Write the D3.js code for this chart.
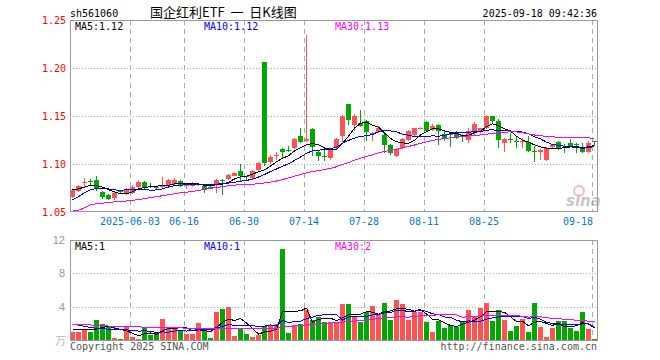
<!DOCTYPE html>
<html>
<head>
<meta charset="utf-8">
<script src="https://cdn.jsdelivr.net/npm/d3@7"></script>
<style>
  body { margin: 0; background: #fff; }
  svg { display: block; }
  .mono { font-family: 'DejaVu Sans Mono', 'Liberation Mono', monospace; font-size: 10px; }
</style>
</head>
<body>
<div id="chart"></div>
<script>
const dates = [
  '05-19', '05-20', '05-21', '05-22', '05-23', '05-26', '05-27', '05-28', '05-29', '05-30',
  '06-03', '06-04', '06-05', '06-06', '06-09', '06-10', '06-11', '06-12', '06-13',
  '06-16', '06-17', '06-18', '06-19', '06-20', '06-23', '06-24', '06-25', '06-26', '06-27',
  '06-30', '07-01', '07-02', '07-03', '07-04', '07-07', '07-08', '07-09', '07-10', '07-11',
  '07-14', '07-15', '07-16', '07-17', '07-18', '07-21', '07-22', '07-23', '07-24', '07-25',
  '07-28', '07-29', '07-30', '07-31', '08-01', '08-04', '08-05', '08-06', '08-07', '08-08',
  '08-11', '08-12', '08-13', '08-14', '08-15', '08-18', '08-19', '08-20', '08-21', '08-22',
  '08-25', '08-26', '08-27', '08-28', '08-29', '09-01', '09-02', '09-03', '09-04', '09-05',
  '09-08', '09-09', '09-10', '09-11', '09-12', '09-15', '09-16', '09-17', '09-18'
];

const open = [
  1.066, 1.072, 1.080, 1.0825, 1.083, 1.071, 1.068, 1.065, 1.0715, 1.069,
  1.070, 1.076, 1.081, 1.0775, 1.0765, 1.077, 1.078, 1.079, 1.082, 1.0775,
  1.077, 1.0785, 1.077, 1.0765, 1.078, 1.0835, 1.084, 1.088, 1.093, 1.0875,
  1.085, 1.094, 1.206, 1.102, 1.108, 1.116, 1.1145, 1.117, 1.129, 1.124,
  1.136, 1.113, 1.1085, 1.106, 1.117, 1.129, 1.162, 1.141, 1.143, 1.145,
  1.1315, 1.133, 1.130, 1.120, 1.108, 1.117, 1.125, 1.130, 1.137, 1.144,
  1.135, 1.141, 1.131, 1.1315, 1.132, 1.1305, 1.125, 1.134, 1.133, 1.1375,
  1.150, 1.145, 1.122, 1.1265, 1.1235, 1.1235, 1.123, 1.1135, 1.112, 1.104,
  1.118, 1.123, 1.1175, 1.122, 1.1205, 1.118, 1.113, 1.1235
];

const high = [
  1.074, 1.078, 1.085, 1.084, 1.088, 1.072, 1.069, 1.071, 1.073, 1.075,
  1.078, 1.082, 1.082, 1.080, 1.077, 1.086, 1.084, 1.085, 1.083, 1.079,
  1.081, 1.080, 1.078, 1.077, 1.084, 1.0845, 1.090, 1.092, 1.100, 1.088,
  1.094, 1.102, 1.206, 1.109, 1.113, 1.117, 1.119, 1.127, 1.137, 1.2345,
  1.137, 1.114, 1.117, 1.116, 1.127, 1.151, 1.163, 1.152, 1.156, 1.146,
  1.133, 1.140, 1.131, 1.121, 1.117, 1.127, 1.135, 1.138, 1.139, 1.145,
  1.142, 1.142, 1.135, 1.133, 1.134, 1.131, 1.137, 1.144, 1.138, 1.151,
  1.1505, 1.147, 1.127, 1.132, 1.128, 1.127, 1.129, 1.119, 1.116, 1.118,
  1.121, 1.124, 1.121, 1.126, 1.122, 1.122, 1.124, 1.124
];

const low = [
  1.065, 1.071, 1.076, 1.077, 1.072, 1.064, 1.062, 1.063, 1.069, 1.068,
  1.069, 1.075, 1.074, 1.075, 1.074, 1.075, 1.077, 1.078, 1.076, 1.074,
  1.076, 1.077, 1.070, 1.075, 1.070, 1.068, 1.083, 1.087, 1.081, 1.082,
  1.084, 1.093, 1.0975, 1.100, 1.104, 1.1065, 1.113, 1.116, 1.122, 1.123,
  1.108, 1.103, 1.103, 1.104, 1.116, 1.123, 1.141, 1.134, 1.139, 1.124,
  1.124, 1.132, 1.111, 1.109, 1.107, 1.116, 1.124, 1.129, 1.136, 1.133,
  1.134, 1.120, 1.124, 1.118, 1.126, 1.123, 1.122, 1.129, 1.132, 1.136,
  1.142, 1.117, 1.113, 1.122, 1.117, 1.117, 1.112, 1.102, 1.104, 1.103,
  1.116, 1.115, 1.111, 1.118, 1.111, 1.111, 1.111, 1.119
];

const close = [
  1.073, 1.077, 1.081, 1.082, 1.074, 1.066, 1.0635, 1.070, 1.071, 1.074,
  1.076, 1.081, 1.075, 1.077, 1.076, 1.0775, 1.083, 1.083, 1.077, 1.078,
  1.080, 1.079, 1.074, 1.076, 1.083, 1.083, 1.089, 1.091, 1.087, 1.087,
  1.093, 1.101, 1.101, 1.107, 1.109, 1.112, 1.114, 1.126, 1.123, 1.126,
  1.118, 1.108, 1.108, 1.115, 1.126, 1.150, 1.146, 1.150, 1.140, 1.133,
  1.132, 1.137, 1.120, 1.111, 1.116, 1.126, 1.134, 1.137, 1.138, 1.134,
  1.140, 1.134, 1.126, 1.131, 1.127, 1.130, 1.134, 1.142, 1.138, 1.150,
  1.145, 1.125, 1.126, 1.126, 1.123, 1.124, 1.114, 1.113, 1.115, 1.117,
  1.120, 1.116, 1.117, 1.119, 1.120, 1.112, 1.122, 1.123
];

// volume, in 万
const volume = [
  1.0, 1.0, 1.2, 1.0, 2.4, 1.92, 1.6, 0.28, 0.16, 1.6,
  0.4, 0.12, 1.48, 0.6, 0.88, 2.52, 1.4, 1.52, 1.12, 0.72,
  0.72, 2.0, 1.2, 0.24, 3.36, 3.72, 3.96, 0.48, 1.36, 0.72,
  0.4, 0.6, 1.72, 1.8, 1.92, 10.92, 0.88, 1.8, 1.92, 3.6,
  2.4, 2.72, 2.2, 2.2, 2.0, 4.32, 4.32, 2.72, 2.2, 3.4,
  4.08, 3.08, 4.44, 2.4, 4.8, 4.32, 2.4, 3.4, 3.4, 2.16,
  0.96, 2.32, 1.48, 1.8, 1.6, 2.2, 3.6, 2.72, 3.88, 4.48,
  2.32, 3.6, 2.4, 1.08, 1.68, 2.48, 0.96, 4.44, 1.56, 0.36,
  1.44, 2.28, 2.28, 1.48, 1.08, 3.36, 1.32, 0.12
];

const ma5Lead = [1.073, 1.074, 1.076, 1.078];
const ma10Lead = [1.0625, 1.066, 1.070, 1.073, 1.0745, 1.0745, 1.074, 1.073, 1.0725];
const ma30Lead = [
  1.0517, 1.0517, 1.0545, 1.0575, 1.0585, 1.0592, 1.060, 1.0605, 1.061, 1.0615,
  1.062, 1.063, 1.064, 1.065, 1.066, 1.067, 1.068, 1.069, 1.070, 1.0705,
  1.0715, 1.0725, 1.0735, 1.0745, 1.0755, 1.0765, 1.0772, 1.078, 1.0785
];
const vma5Lead = [1.3, 1.3, 1.25, 1.2];
const vma10Lead = [1.9, 1.8, 1.65, 1.5, 1.4, 1.35, 1.3, 1.28, 1.25];
const vma30Lead = [
  1.9, 1.87, 1.85, 1.8, 1.75, 1.7, 1.68, 1.66, 1.64, 1.62,
  1.6, 1.57, 1.54, 1.52, 1.5, 1.48, 1.47, 1.46, 1.45, 1.42,
  1.4, 1.38, 1.35, 1.33, 1.33, 1.33, 1.34, 1.35, 1.35
];

const priceTicks = [1.05, 1.10, 1.15, 1.20, 1.25];
const volumeTicks = [4, 8, 12];
const tickDates = ['06-03', '06-16', '06-30', '07-14', '07-28', '08-11', '08-25', '09-18'];
const tickLabels = ['2025-06-03', '06-16', '06-30', '07-14', '07-28', '08-11', '08-25', '09-18'];

const red = '#ff5252';
const green = '#00a800';
const maColors = ['#000', '#0000ff', '#ff00ff'];

function movingAvg(values, n, lead) {
  return values.map((v, i) => {
    if (i < n - 1) {
      return lead[i];
    }
    return d3.mean(values.slice(i - n + 1, i + 1));
  });
}

let width = 660;
let height = 360;
let left = 70;
let right = 597;

let svg = d3.select('#chart').append('svg')
  .attr('width', width)
  .attr('height', height);

let x = d3.scaleBand()
  .domain(dates)
  .range([left, right])
  .paddingInner(1 / 6)
  .paddingOuter(0);

let yPrice = d3.scaleLinear()
  .domain([1.05, 1.25])
  .range([212, 20]);

let yVol = d3.scaleLinear()
  .domain([0, 12])
  .range([340, 240]);

// header
svg.append('text')
  .attr('class', 'mono')
  .attr('x', 70)
  .attr('y', 17)
  .text('sh561060');

svg.append('text')
  .attr('x', 150)
  .attr('y', 17)
  .attr('font-family', "'Noto Sans CJK SC', sans-serif")
  .attr('font-size', 13)
  .style('white-space', 'pre')
  .text('国企红利ETF  一  日K线图');

svg.append('text')
  .attr('class', 'mono')
  .attr('x', 597)
  .attr('y', 17)
  .attr('text-anchor', 'end')
  .text('2025-09-18 09:42:36');

function drawGrid(top, bottom, yScale, hTicks) {
  let g = svg.append('g');

  g.selectAll('.vgrid')
    .data(tickDates).enter()
      .append('line')
        .attr('x1', d => x(d) + 0.5)
        .attr('x2', d => x(d) + 0.5)
        .attr('y1', top)
        .attr('y2', bottom)
        .attr('stroke', '#aaa')
        .attr('stroke-dasharray', '5,4');

  g.selectAll('.hgrid')
    .data(hTicks).enter()
      .append('line')
        .attr('x1', left)
        .attr('x2', right)
        .attr('y1', d => Math.round(yScale(d)) + 0.5)
        .attr('y2', d => Math.round(yScale(d)) + 0.5)
        .attr('stroke', '#aaa')
        .attr('stroke-dasharray', '1,2');
}

drawGrid(20, 212, yPrice, [1.10, 1.15, 1.20]);
drawGrid(240, 340, yVol, [4, 8]);

// watermark
let logo = svg.append('g').attr('opacity', 0.55);
logo.append('circle')
  .attr('cx', 579)
  .attr('cy', 191)
  .attr('r', 5)
  .attr('fill', 'none')
  .attr('stroke', '#f08080')
  .attr('stroke-width', 2);
logo.append('text')
  .attr('x', 566)
  .attr('y', 206)
  .attr('font-family', "'DejaVu Sans', sans-serif")
  .attr('font-weight', 'bold')
  .attr('font-style', 'italic')
  .attr('font-size', 15)
  .attr('fill', '#999')
  .text('sina');

// candles
let candles = svg.append('g').attr('shape-rendering', 'crispEdges');

dates.forEach((d, i) => {
  let color = close[i] >= open[i] ? red : green;
  let top = yPrice(Math.max(open[i], close[i]));
  let bot = yPrice(Math.min(open[i], close[i]));

  candles.append('rect')
    .attr('x', x(d) + 2)
    .attr('width', 1)
    .attr('y', yPrice(high[i]))
    .attr('height', Math.max(1, yPrice(low[i]) - yPrice(high[i])))
    .attr('fill', color);

  candles.append('rect')
    .attr('x', x(d))
    .attr('width', x.bandwidth())
    .attr('y', top)
    .attr('height', Math.max(1, bot - top))
    .attr('fill', color);

  svg.append('rect')
    .attr('shape-rendering', 'crispEdges')
    .attr('x', x(d))
    .attr('width', x.bandwidth())
    .attr('y', yVol(volume[i]))
    .attr('height', yVol(0) - yVol(volume[i]))
    .attr('fill', color);
});

function drawLine(values, yScale, color) {
  svg.append('path')
    .datum(values)
    .attr('fill', 'none')
    .attr('stroke', color)
    .attr('stroke-width', 1)
    .attr('shape-rendering', 'crispEdges')
    .attr('d', d3.line()
      .x((v, i) => x(dates[i]) + x.bandwidth() / 2)
      .y(v => yScale(v)));
}

let ma5 = movingAvg(close, 5, ma5Lead);
let ma10 = movingAvg(close, 10, ma10Lead);
let ma30 = movingAvg(close, 30, ma30Lead);
let vma5 = movingAvg(volume, 5, vma5Lead);
let vma10 = movingAvg(volume, 10, vma10Lead);
let vma30 = movingAvg(volume, 30, vma30Lead);

[ma5, ma10, ma30].forEach((m, k) => drawLine(m, yPrice, maColors[k]));
[vma5, vma10, vma30].forEach((m, k) => drawLine(m, yVol, maColors[k]));

// frames
svg.append('rect')
  .attr('x', left + 0.5)
  .attr('y', 20.5)
  .attr('width', right - left)
  .attr('height', 191)
  .attr('fill', 'none')
  .attr('stroke', '#999');

svg.append('rect')
  .attr('x', left + 0.5)
  .attr('y', 240.5)
  .attr('width', right - left)
  .attr('height', 100)
  .attr('fill', 'none')
  .attr('stroke', '#999');

// axes
let priceAxis = svg.append('g')
  .attr('class', 'mono')
  .attr('transform', 'translate(' + left + ',0)')
  .call(d3.axisLeft(yPrice).tickValues(priceTicks).tickFormat(d3.format('.2f')).tickSize(0).tickPadding(4));
priceAxis.select('.domain').remove();
priceAxis.selectAll('text')
  .attr('fill', '#ff0000')
  .style('font-family', "'DejaVu Sans Mono', monospace")
  .style('font-size', '10px');

let volAxis = svg.append('g')
  .attr('transform', 'translate(' + left + ',0)')
  .call(d3.axisLeft(yVol).tickValues(volumeTicks).tickSize(0).tickPadding(5));
volAxis.select('.domain').remove();
volAxis.selectAll('text')
  .attr('fill', '#999')
  .style('font-family', "'Liberation Sans', Arial, sans-serif")
  .style('font-size', '11px');

svg.append('text')
  .attr('x', 66)
  .attr('y', 345)
  .attr('text-anchor', 'end')
  .attr('font-family', "'Noto Sans CJK SC', sans-serif")
  .attr('font-size', 11)
  .attr('fill', '#bbb')
  .text('万');

svg.selectAll('.date-label')
  .data(tickDates).enter()
    .append('text')
      .attr('class', 'mono')
      .attr('x', (d, i) => i == tickDates.length - 1 ? x(d) + 1 : x(d))
      .attr('y', 225)
      .attr('text-anchor', (d, i) => i == tickDates.length - 1 ? 'end' : 'middle')
      .attr('fill', '#0a78d2')
      .text((d, i) => tickLabels[i]);

// MA legends
let last = dates.length - 1;
let priceLegend = [
  { label: 'MA5:' + ma5[last].toFixed(2), x: 75 },
  { label: 'MA10:' + ma10[last].toFixed(2), x: 204 },
  { label: 'MA30:' + ma30[last].toFixed(2), x: 335 }
];
let volLegend = [
  { label: 'MA5:' + Math.floor(vma5[last]), x: 75 },
  { label: 'MA10:' + Math.floor(vma10[last]), x: 204 },
  { label: 'MA30:' + Math.floor(vma30[last]), x: 335 }
];

[[priceLegend, 30], [volLegend, 250]].forEach(([items, ly]) => {
  svg.selectAll(null)
    .data(items).enter()
      .append('text')
        .attr('class', 'mono')
        .attr('x', d => d.x)
        .attr('y', ly)
        .attr('fill', (d, i) => maColors[i])
        .text(d => d.label);
});

// footer
svg.append('text')
  .attr('class', 'mono')
  .attr('x', 70)
  .attr('y', 350)
  .attr('fill', '#555')
  .text('Copyright 2025 SINA.COM');

svg.append('text')
  .attr('class', 'mono')
  .attr('x', 597)
  .attr('y', 350)
  .attr('text-anchor', 'end')
  .attr('fill', '#555')
  .text('http://finance.sina.com.cn');
</script>
</body>
</html>
